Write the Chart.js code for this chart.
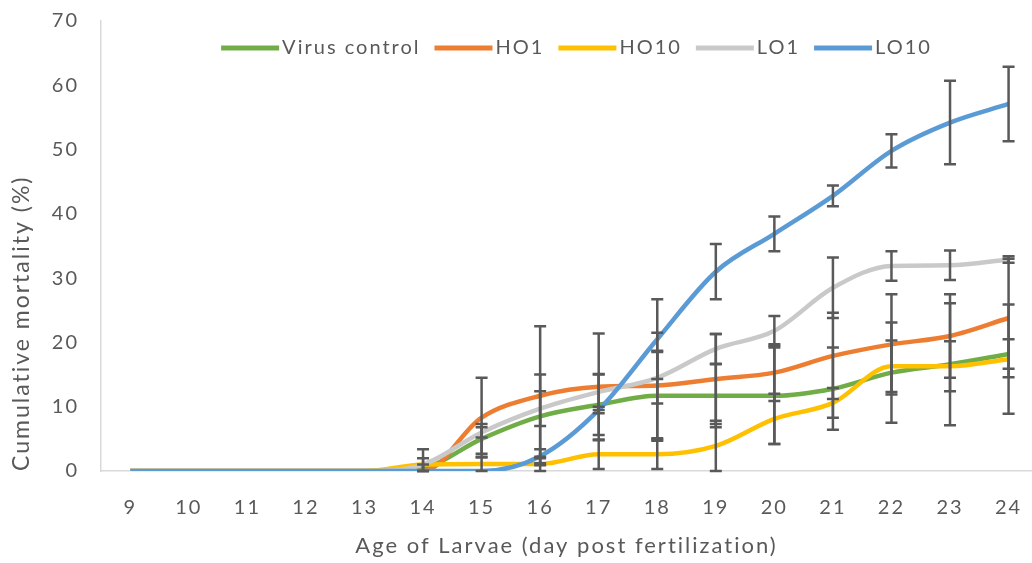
<!DOCTYPE html>
<html>
<head>
<meta charset="utf-8">
<title>Cumulative mortality</title>
<script src="https://cdn.jsdelivr.net/npm/chart.js@4.4.1/dist/chart.umd.min.js"></script>
<style>
  html, body { margin: 0; padding: 0; background: #fff; }
  #wrap { width: 1032px; height: 563px; }
</style>
</head>
<body>
<div id="wrap"><canvas id="mortalityChart"></canvas></div>
<script>
// Age of larvae, days post fertilization
const days = [9, 10, 11, 12, 13, 14, 15, 16, 17, 18, 19, 20, 21, 22, 23, 24];
const yTicks = [0, 10, 20, 30, 40, 50, 60, 70];

// Cumulative mortality (%) and error (+/-) per treatment
const virusControl    = [0, 0, 0, 0, 0, 0.5, 5, 8.5, 10.3, 11.7, 11.7, 11.7, 12.8, 15.3, 16.6, 18.2];
const virusControlErr = [0, 0, 0, 0, 0, 0.5, 2.3, 6.5, 4.7, 7, 4.9, 7.5, 6.4, 7.8, 9.5, 2.3];
const ho1    = [0, 0, 0, 0, 0, 0, 8.3, 11.7, 13.1, 13.3, 14.3, 15.3, 17.9, 19.7, 21, 23.8];
const ho1Err = [0, 0, 0, 0, 0, 0, 6.2, 10.8, 8.3, 8.2, 7, 4.4, 6.7, 7.8, 6.5, 9.2];
const ho10    = [0, 0, 0, 0, 0, 1, 1.1, 1.1, 2.6, 2.6, 3.9, 8.1, 10.6, 16.3, 16.3, 17.4];
const ho10Err = [0, 0, 0, 0, 0, 1, 1.1, 1.1, 2.3, 2.3, 3.9, 3.9, 2.3, 4, 3.9, 8.5];
const lo1    = [0, 0, 0, 0, 0, 1, 6, 9.7, 12.3, 14.5, 19, 21.8, 28.5, 31.9, 32, 32.9];
const lo1Err = [0, 0, 0, 0, 0, 2.4, 0.8, 2.7, 2.8, 4, 2.3, 2.3, 4.7, 2.3, 2.3, 0.5];
const lo10    = [0, 0, 0, 0, 0, 0, 0, 2.3, 9.5, 20.5, 31, 36.9, 42.8, 49.8, 54.2, 57.1];
const lo10Err = [0, 0, 0, 0, 0, 0, 0, 1.1, 0.5, 6.2, 4.3, 2.7, 1.6, 2.6, 6.5, 5.8];

const textColor = '#595959';
const fontFamily = 'Lato, "Open Sans", sans-serif';

function makeSeries(label, values, errors, color, order) {
    return {
        label: label,
        data: days.map((d, i) => ({ x: d, y: values[i] })),
        errors: errors,
        borderColor: color,
        backgroundColor: color,
        borderWidth: 4.5,
        borderJoinStyle: 'round',
        pointRadius: 0,
        pointHoverRadius: 0,
        cubicInterpolationMode: 'monotone',
        fill: false,
        order: order
    };
}

// wider letter spacing for every label on the canvas
const spacedText = {
    id: 'spacedText',
    beforeDraw(chart) {
        chart.ctx.letterSpacing = '2px';
    }
};

// vertical error bars with caps, drawn on top of the lines
const errorBars = {
    id: 'errorBars',
    afterDatasetsDraw(chart) {
        const { ctx, scales: { y } } = chart;
        ctx.save();
        ctx.strokeStyle = '#595959';
        ctx.lineWidth = 2.5;
        chart.data.datasets.forEach((ds, i) => {
            const meta = chart.getDatasetMeta(i);
            meta.data.forEach((pt, j) => {
                const err = ds.errors[j];
                if (!err) return;
                const v = ds.data[j].y;
                const yTop = y.getPixelForValue(v + err);
                const yBot = y.getPixelForValue(Math.max(0, v - err));
                ctx.beginPath();
                ctx.moveTo(pt.x, yTop);
                ctx.lineTo(pt.x, yBot);
                ctx.moveTo(pt.x - 6, yTop);
                ctx.lineTo(pt.x + 6, yTop);
                ctx.moveTo(pt.x - 6, yBot);
                ctx.lineTo(pt.x + 6, yBot);
                ctx.stroke();
            });
        });
        ctx.restore();
    }
};

// legend row laid over the top of the plot
const topLegend = {
    id: 'topLegend',
    afterDraw(chart) {
        const { ctx, chartArea } = chart;
        const sample = 58, gap = 3, spacing = 14, y = 48;
        ctx.save();
        ctx.font = '20px ' + fontFamily;
        ctx.textBaseline = 'middle';
        ctx.fillStyle = textColor;
        const items = chart.data.datasets.map(ds => ({
            text: ds.label,
            color: ds.borderColor,
            w: sample + gap + ctx.measureText(ds.label).width
        }));
        const total = items.reduce((a, it) => a + it.w, 0) + spacing * (items.length - 1);
        let x = (chartArea.left + chartArea.right) / 2 + 10 - total / 2;
        items.forEach(it => {
            ctx.fillStyle = it.color;
            ctx.fillRect(x, y - 2.5, sample, 5);
            ctx.fillStyle = textColor;
            ctx.fillText(it.text, x + sample + gap, y);
            x += it.w + spacing;
        });
        ctx.restore();
    }
};

const ctx = document.getElementById('mortalityChart').getContext('2d');
new Chart(ctx, {
    type: 'line',
    data: {
        datasets: [
            makeSeries('Virus control', virusControl, virusControlErr, '#70AD47', 5),
            makeSeries('HO1', ho1, ho1Err, '#ED7D31', 4),
            makeSeries('HO10', ho10, ho10Err, '#FFC000', 3),
            makeSeries('LO1', lo1, lo1Err, '#C9C9C9', 2),
            makeSeries('LO10', lo10, lo10Err, '#5B9BD5', 1)
        ]
    },
    options: {
        responsive: true,
        maintainAspectRatio: false,
        animation: false,
        layout: { padding: { top: 21, right: 0, left: 0, bottom: 0 } },
        scales: {
            x: {
                type: 'linear',
                min: 8.5,
                max: 24.4,
                afterBuildTicks: axis => { axis.ticks = days.map(d => ({ value: d })); },
                afterFit: axis => {
                    axis.height = 92;
                    axis.paddingLeft = 0;
                    axis.paddingRight = 0;
                },
                grid: { display: false, drawTicks: false },
                border: { display: true, color: '#D9D9D9', width: 1.5 },
                ticks: { color: textColor, font: { family: fontFamily, size: 20 }, padding: 25 },
                title: {
                    display: true,
                    text: 'Age of Larvae (day post fertilization)',
                    color: textColor,
                    font: { family: fontFamily, size: 22 },
                    padding: { top: 0, bottom: 4 }
                }
            },
            y: {
                min: 0,
                max: 70,
                afterBuildTicks: axis => { axis.ticks = yTicks.map(v => ({ value: v })); },
                afterFit: axis => {
                    axis.width = 101;
                    axis.paddingTop = 0;
                    axis.paddingBottom = 0;
                },
                grid: { display: false, drawTicks: false },
                border: { display: true, color: '#D9D9D9', width: 1.5 },
                ticks: { color: textColor, font: { family: fontFamily, size: 20 }, padding: 22 },
                title: {
                    display: true,
                    text: 'Cumulative mortality (%)',
                    align: 'start',
                    color: textColor,
                    font: { family: fontFamily, size: 23 },
                    padding: { top: 8, bottom: 0 }
                }
            }
        },
        plugins: {
            legend: { display: false },
            tooltip: { enabled: false }
        }
    },
    plugins: [spacedText, errorBars, topLegend]
});
</script>
</body>
</html>
